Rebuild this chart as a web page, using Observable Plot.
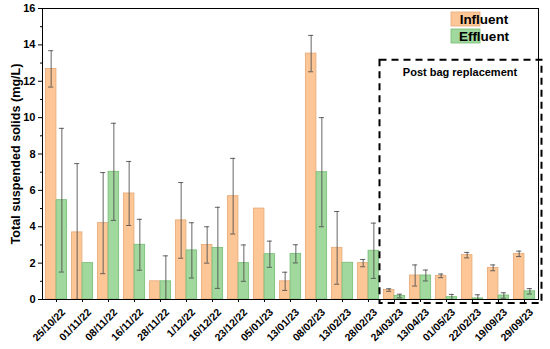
<!DOCTYPE html>
<html><head><meta charset="utf-8">
<script src="https://cdn.jsdelivr.net/npm/d3@7"></script>
<script src="https://cdn.jsdelivr.net/npm/@observablehq/plot@0.6"></script>
<style>body{margin:0;background:#fff}</style>
</head><body><div id="chart"></div>
<script>
const dates = ["25/10/22","01/11/22","08/11/22","16/11/22","28/11/22","1/12/22","16/12/22","23/12/22","05/01/23","13/01/23","08/02/23","13/02/23","28/02/23","24/03/23","13/04/23","01/05/23","22/02/23","19/09/23","29/09/23"];
const influent    = [12.68, 3.69, 4.20, 5.83, 1.00, 4.35, 3.00, 5.68, 5.00, 1.00, 13.52, 2.84, 2.00, 0.52, 1.32, 1.30, 2.44, 1.74, 2.51];
const influentErr = [1.00, 3.78, 2.78, 1.76, null, 2.08, 1.00, 2.08, null, 0.50, 1.00, 2.00, 0.20, 0.07, 0.58, 0.10, 0.15, 0.16, 0.15];
const effluent    = [5.46, 2.00, 7.02, 3.01, 1.00, 2.70, 2.84, 2.00, 2.49, 2.51, 7.00, 2.02, 2.68, 0.19, 1.32, 0.13, 0.06, 0.22, 0.45];
const effluentErr = [3.95, null, 2.67, 1.40, 1.40, 1.52, 2.23, 1.00, 0.72, 0.50, 3.00, null, 1.52, 0.10, 0.30, 0.15, 0.20, 0.15, 0.15];
const seriesNames = ["Influent", "Effluent"];
const yMajorTicks = [0, 2, 4, 6, 8, 10, 12, 14, 16];
const yMinorTicks = [1, 3, 5, 7, 9, 11, 13, 15];
const yTitle = "Total suspended solids (mg/L)";
const boxLabel = "Post bag replacement";
const boxStart = "24/03/23";
const boxTopValue = 13.15;

const fills = {Influent: "#FDC697", Effluent: "#A0D89E"};
const strokes = {Influent: "#E6A875", Effluent: "#74BD73"};

const rowsIn = dates.map((d, i) => ({date: d, value: influent[i], err: influentErr[i]}));
const rowsEf = dates.map((d, i) => ({date: d, value: effluent[i], err: effluentErr[i]}));

const W = 550, H = 349, mL = 42, mR = 12, mT = 8, mB = 50;
const bw = (W - mL - mR) / dates.length;
const barW = 10.7, capHalf = 2.6;
const errStyle = {stroke: "#4a4a4a", strokeOpacity: 0.85, strokeWidth: 1, clip: true};

function errMarks(rows, offset) {
  const r = rows.filter(d => d.err != null);
  const c = bw / 2 + offset;
  return [
    Plot.ruleX(r, {x: "date", y1: d => d.value - d.err, y2: d => d.value + d.err, dx: offset, ...errStyle}),
    Plot.tickY(r, {x: "date", y: d => d.value + d.err, insetLeft: c - capHalf, insetRight: bw - c - capHalf, ...errStyle}),
    Plot.tickY(r, {x: "date", y: d => d.value - d.err, insetLeft: c - capHalf, insetRight: bw - c - capHalf, ...errStyle})
  ];
}

const plot = Plot.plot({
  width: W, height: H,
  marginLeft: mL, marginRight: mR, marginTop: mT, marginBottom: mB,
  style: {fontFamily: "'Liberation Sans', Arial, sans-serif", fontWeight: "bold", color: "#000", background: "#fff"},
  x: {type: "band", domain: dates, padding: 0, label: null},
  y: {domain: [0, 16], label: null},
  marks: [
    Plot.barY(rowsIn, {x: "date", y: "value", fill: fills.Influent, stroke: strokes.Influent, strokeWidth: 0.8,
      insetLeft: bw / 2 - barW, insetRight: bw / 2}),
    Plot.barY(rowsEf, {x: "date", y: "value", fill: fills.Effluent, stroke: strokes.Effluent, strokeWidth: 0.8,
      insetLeft: bw / 2, insetRight: bw / 2 - barW}),
    ...errMarks(rowsIn, -barW / 2),
    ...errMarks(rowsEf, barW / 2),
    Plot.frame({stroke: "#000", strokeWidth: 1}),
    Plot.axisY({ticks: yMajorTicks, tickSize: 4, tickPadding: 3, fontSize: 11, label: null}),
    Plot.axisY({ticks: yMinorTicks, tickSize: 2, tickFormat: () => "", label: null}),
    Plot.axisX({tickSize: 3, tickFormat: () => "", label: null}),
    Plot.axisX({tickRotate: -45, tickSize: 0, tickPadding: 4, fontSize: 10.5, dx: 7, dy: 7, label: null}),
    Plot.text([yTitle], {frameAnchor: "left", textAnchor: "middle", rotate: -90, dx: -27, fontSize: 12.6, fontWeight: "bold"})
  ]
});

const svg = d3.select(plot);
const xs = plot.scale("x"), ys = plot.scale("y");
// dashed annotation box
const bx0 = xs.apply(boxStart) - 1.5;
const bx1 = W - mR + 3.5;
const by0 = ys.apply(boxTopValue);
const by1 = ys.apply(0) + 4;
svg.append("rect").attr("x", bx0).attr("y", by0).attr("width", bx1 - bx0).attr("height", by1 - by0)
  .attr("fill", "none").attr("stroke", "#000").attr("stroke-width", 2).attr("stroke-dasharray", "7,5");
svg.append("text").attr("x", (bx0 + bx1) / 2 - 0.5).attr("y", by0 + 16).attr("text-anchor", "middle")
  .attr("font-size", 11).attr("font-weight", "bold").text(boxLabel);
// legend
seriesNames.forEach((s, i) => {
  const y = 12 + i * 17;
  svg.append("rect").attr("x", 451).attr("y", y).attr("width", 29).attr("height", 14)
    .attr("fill", fills[s]).attr("stroke", strokes[s]).attr("stroke-width", 0.8);
  svg.append("text").attr("x", 484).attr("y", y + 12).attr("font-size", 13.5).attr("font-weight", "bold").text(s);
});

document.getElementById("chart").appendChild(plot);
</script>
</body></html>
